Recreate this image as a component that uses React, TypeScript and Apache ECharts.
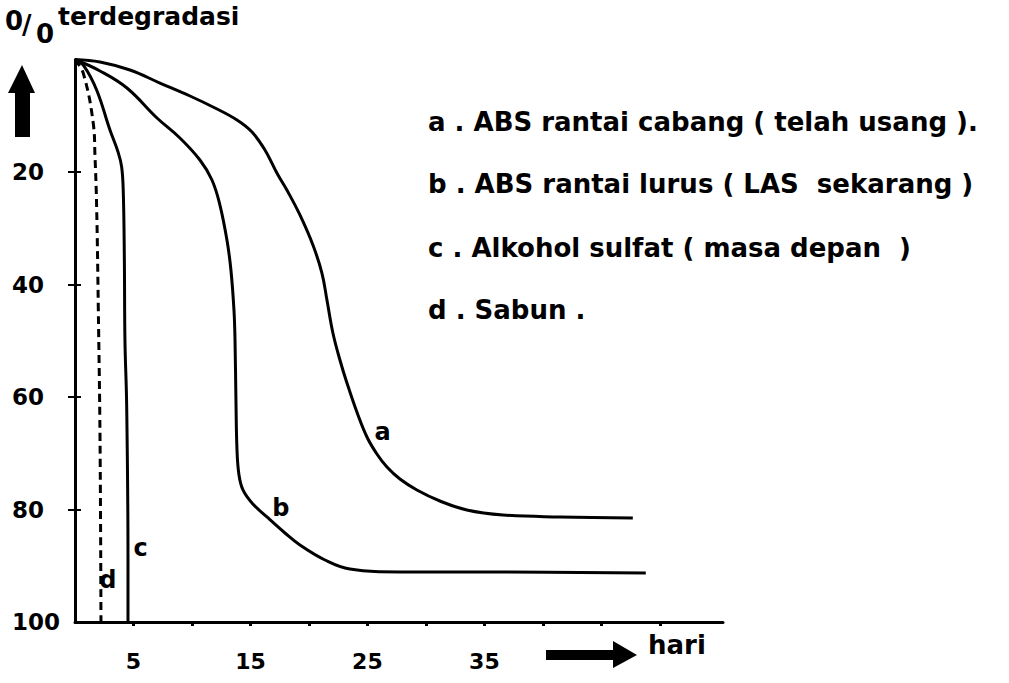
import React, { useEffect, useRef } from "react";
import * as echarts from "echarts";

// Curve a: ABS rantai cabang
const aDays = [0, 2.14, 4.7, 7.26, 9.83, 11.97, 13.85, 15.13, 16.24, 17.26, 18.21, 19.23, 20.34, 21.11, 21.54, 22.05, 22.65, 23.25, 24.1, 24.96, 25.81, 26.67, 27.78, 29.23, 31.2, 33.5, 36.58, 41.45, 47.69];
const aValues = [0, 0.44, 1.87, 4.18, 6.49, 8.62, 10.76, 12.89, 16.09, 20.18, 23.56, 27.64, 32.98, 37.96, 42.76, 48.62, 53.42, 57.51, 62.67, 67.11, 70.13, 72.44, 74.58, 76.53, 78.49, 80.09, 80.98, 81.33, 81.51];
// Curve b: ABS rantai lurus
const bDays = [0, 2.14, 4.44, 7.01, 8.97, 10.68, 11.71, 12.39, 12.99, 13.33, 13.59, 13.68, 13.76, 13.85, 14.02, 14.36, 15.13, 16.41, 17.95, 19.23, 21.37, 23.5, 27.78, 36.32, 48.8];
const bValues = [0, 2.04, 5.07, 10.4, 13.96, 17.87, 21.42, 25.87, 32.09, 37.42, 44.53, 49.87, 60.53, 69.42, 73.87, 76.53, 78.84, 81.33, 84.18, 86.31, 88.98, 90.58, 91.11, 91.11, 91.29];
// Curve c: Alkohol sulfat
const cDays = [0, 0.77, 1.85, 2.99, 3.68, 3.99, 4.13, 4.22, 4.27, 4.42, 4.53, 4.53];
const cValues = [0, 1.16, 5.42, 12.53, 16.44, 19.11, 23.73, 35.64, 49.87, 61.78, 88.44, 100];
// Curve d: Sabun
const dDays = [0, 0.71, 1.56, 1.71, 1.85, 1.99, 2.14, 2.22];
const dValues = [0, 2.45, 11.34, 17.28, 26.17, 43.95, 67.64, 100];

const curveNames = ["a", "b", "c", "d"];
const curveLabelPos: [number, number][] = [[26.3, 66.2], [17.6, 79.7], [5.6, 86.8], [2.8, 92.5]];

const legendLines = [
  "a . ABS rantai cabang ( telah usang ).",
  "b . ABS rantai lurus ( LAS  sekarang )",
  "c . Alkohol sulfat ( masa depan  )",
  "d . Sabun .",
];

const xTickValues = [5, 10, 15, 20, 25, 30, 35, 40, 45, 50];
const xLabelValues = [5, 15, 25, 35];
const yTickValues = [20, 40, 60, 80];
const yLabelValues = [20, 40, 60, 80, 100];

const FONT = "DejaVu Sans";

function zip(xs: number[], ys: number[]) {
  return xs.map((x, i) => [x, ys[i]]);
}

export default function App() {
  const ref = useRef<HTMLDivElement>(null);
  useEffect(() => {
    if (!ref.current) return;
    const chart = echarts.init(ref.current, undefined, { renderer: "svg" });
    const curves = [
      { days: aDays, values: aValues, dashed: false },
      { days: bDays, values: bValues, dashed: false },
      { days: cDays, values: cValues, dashed: false },
      { days: dDays, values: dValues, dashed: true },
    ];
    const series = curves.map((c, i) => ({
      type: "line",
      name: curveNames[i],
      data: zip(c.days, c.values),
      smooth: 0.4,
      symbol: "none",
      lineStyle: { color: "#000", width: 3, type: c.dashed ? [8, 5] : "solid" },
      markPoint: {
        symbol: "circle",
        symbolSize: 0,
        data: [
          {
            coord: curveLabelPos[i],
            label: {
              show: true,
              formatter: curveNames[i],
              color: "#000",
              fontFamily: FONT,
              fontWeight: "bold",
              fontSize: 24,
              position: "inside",
            },
          },
        ],
      },
    }));
    const legendY = [122, 184, 248, 310];
    const graphic: any[] = [
      { type: "text", left: 5, top: 8, style: { text: "0", font: `bold 26px ${FONT}`, fill: "#000" } },
      { type: "text", left: 22, top: 12, style: { text: "/", font: `bold 26px ${FONT}`, fill: "#000" } },
      { type: "text", left: 36, top: 21, style: { text: "0", font: `bold 26px ${FONT}`, fill: "#000" } },
      { type: "text", left: 58, top: 4, style: { text: "terdegradasi", font: `bold 25px ${FONT}`, fill: "#000" } },
      {
        type: "polygon",
        shape: { points: [[22, 65], [35, 93], [30, 93], [30, 137], [15, 137], [15, 93], [8, 93]] },
        style: { fill: "#000" },
      },
      {
        type: "polygon",
        shape: { points: [[546, 650], [613, 650], [613, 641], [637, 655], [613, 668], [613, 660], [546, 660]] },
        style: { fill: "#000" },
      },
      { type: "text", left: 648, top: 632, style: { text: "hari", font: `bold 26px ${FONT}`, fill: "#000" } },
      ...legendLines.map((t, i) => ({
        type: "text",
        x: 428,
        y: legendY[i],
        style: { text: t, font: `bold 26px ${FONT}`, fill: "#000", verticalAlign: "middle", align: "left" },
      })),
    ];
    const yCommon = {
      type: "value",
      inverse: true,
      min: 0,
      max: 100,
      interval: 20,
      position: "left",
      splitLine: { show: false },
    };
    chart.setOption({
      animation: false,
      backgroundColor: "#fff",
      grid: { left: 75, right: 286, top: 59.5, bottom: 61, containLabel: false },
      xAxis: {
        type: "value",
        position: "bottom",
        min: 0,
        max: 55.4,
        interval: 5,
        splitLine: { show: false },
        axisLine: { show: true, onZero: false, lineStyle: { color: "#000", width: 3 } },
        axisTick: { show: true, customValues: xTickValues, length: 4, lineStyle: { color: "#000", width: 3 } },
        axisLabel: {
          show: true,
          customValues: xLabelValues,
          color: "#000",
          fontFamily: FONT,
          fontWeight: "bold",
          fontSize: 22,
          margin: 28,
        },
      },
      yAxis: [
        {
          ...yCommon,
          axisLine: { show: true, onZero: false, lineStyle: { color: "#000", width: 3 } },
          axisTick: { show: true, customValues: yTickValues, length: 7, lineStyle: { color: "#000", width: 2 } },
          axisLabel: {
            show: true,
            customValues: yLabelValues,
            color: "#000",
            fontFamily: FONT,
            fontWeight: "bold",
            fontSize: 23,
            margin: 63,
            align: "left",
          },
        },
        {
          ...yCommon,
          axisLine: { show: false, onZero: false },
          axisTick: { show: true, inside: true, customValues: yTickValues, length: 6, lineStyle: { color: "#000", width: 2 } },
          axisLabel: { show: false },
        },
      ],
      series,
      graphic,
    });
    return () => chart.dispose();
  }, []);
  return <div ref={ref} style={{ position: "absolute", left: 0, top: 0, width: 1009, height: 683 }} />;
}
